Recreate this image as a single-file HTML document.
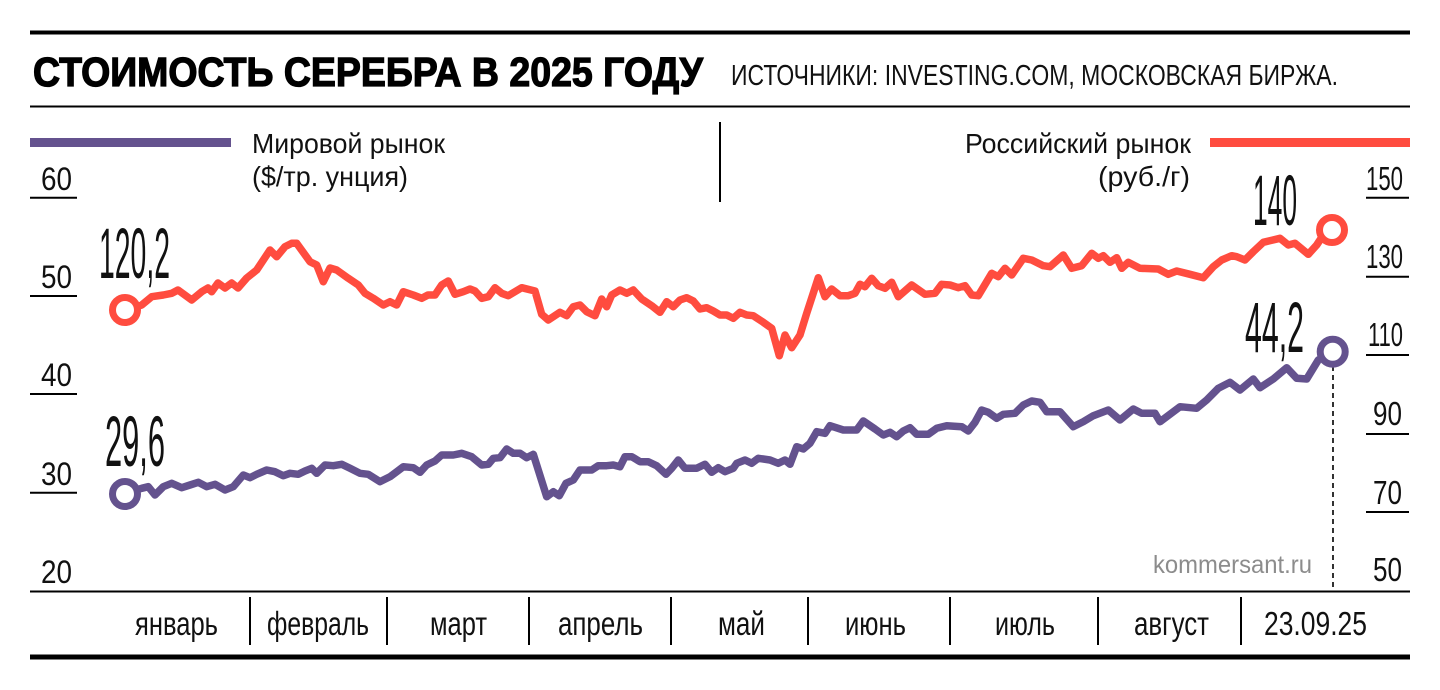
<!DOCTYPE html>
<html>
<head>
<meta charset="utf-8">
<style>
  html, body { margin: 0; padding: 0; background: #ffffff; }
  svg { display: block; }
  text { font-family: "Liberation Sans", "Noto Sans CJK SC", sans-serif; fill: #111; }
</style>
</head>
<body>
<svg width="1440" height="690" viewBox="0 0 1440 690" xmlns="http://www.w3.org/2000/svg">
  <rect x="0" y="0" width="1440" height="690" fill="#ffffff"/>

  <!-- Header -->
  <line x1="30" y1="32.5" x2="1410" y2="32.5" stroke="#000" stroke-width="4"/>
  <text x="33" y="86" font-size="41" font-weight="bold" textLength="670" lengthAdjust="spacingAndGlyphs" style="fill:#000;stroke:#000;stroke-width:1.3">СТОИМОСТЬ СЕРЕБРА В 2025 ГОДУ</text>
  <text x="731" y="85" font-size="29" textLength="607" lengthAdjust="spacingAndGlyphs">ИСТОЧНИКИ: INVESTING.COM, МОСКОВСКАЯ БИРЖА.</text>
  <line x1="30" y1="106.5" x2="1410" y2="106.5" stroke="#000" stroke-width="2"/>

  <!-- Legend -->
  <rect x="30" y="138" width="201" height="9" fill="#64528e"/>
  <text x="252" y="153" font-size="28" textLength="193" lengthAdjust="spacingAndGlyphs">Мировой рынок</text>
  <text x="252" y="186" font-size="28" textLength="156" lengthAdjust="spacingAndGlyphs">($/тр. унция)</text>
  <line x1="720" y1="122" x2="720" y2="202" stroke="#000" stroke-width="2"/>
  <rect x="1210" y="138" width="200" height="9" fill="#ff4c3f"/>
  <text x="965" y="153" font-size="28" textLength="226" lengthAdjust="spacingAndGlyphs">Российский рынок</text>
  <text x="1098" y="186" font-size="28" textLength="92" lengthAdjust="spacingAndGlyphs">(руб./г)</text>

  <!-- Left axis -->
  <g font-size="32">
    <text x="41" y="190" textLength="31" lengthAdjust="spacingAndGlyphs">60</text>
    <text x="41" y="288" textLength="31" lengthAdjust="spacingAndGlyphs">50</text>
    <text x="41" y="386" textLength="31" lengthAdjust="spacingAndGlyphs">40</text>
    <text x="41" y="485" textLength="31" lengthAdjust="spacingAndGlyphs">30</text>
    <text x="41" y="583" textLength="31" lengthAdjust="spacingAndGlyphs">20</text>
  </g>
  <g stroke="#000" stroke-width="2">
    <line x1="30" y1="197.7" x2="77" y2="197.7"/>
    <line x1="30" y1="296" x2="77" y2="296"/>
    <line x1="30" y1="394" x2="77" y2="394"/>
    <line x1="30" y1="492.7" x2="77" y2="492.7"/>
  </g>

  <!-- Right axis -->
  <g font-size="33">
    <text x="1366" y="190" textLength="37" lengthAdjust="spacingAndGlyphs">150</text>
    <text x="1366" y="268" textLength="37" lengthAdjust="spacingAndGlyphs">130</text>
    <text x="1368" y="346" textLength="35" lengthAdjust="spacingAndGlyphs">110</text>
    <text x="1373" y="425" textLength="29" lengthAdjust="spacingAndGlyphs">90</text>
    <text x="1373" y="504" textLength="29" lengthAdjust="spacingAndGlyphs">70</text>
    <text x="1373" y="581" textLength="29" lengthAdjust="spacingAndGlyphs">50</text>
  </g>
  <g stroke="#000" stroke-width="2">
    <line x1="1366" y1="197.7" x2="1409" y2="197.7"/>
    <line x1="1366" y1="276.7" x2="1409" y2="276.7"/>
    <line x1="1366" y1="355" x2="1409" y2="355"/>
    <line x1="1366" y1="434" x2="1409" y2="434"/>
    <line x1="1366" y1="512" x2="1409" y2="512"/>
  </g>

  <!-- kommersant -->
  <text x="1153" y="573" font-size="25" textLength="159" lengthAdjust="spacingAndGlyphs" style="fill:#8c8c8c">kommersant.ru</text>

  <!-- Dashed marker -->
  <line x1="1333" y1="366" x2="1333" y2="591" stroke="#000" stroke-width="1.6" stroke-dasharray="5,4"/>

  <!-- Red series (Russian market) -->
  <polyline fill="none" stroke="#ff4c3f" stroke-width="7.5" stroke-linejoin="round" stroke-linecap="round"
    points="125,310 141.7,305 151.7,296.7 163.3,295 171.7,293.3 178,290 191.7,300 201.7,291.7 208,288 211.7,291.7 218,283 225,288 231.7,283 238,288 246.7,278 256.7,270 270,250 276.7,256.7 285,246.7 291.7,243.3 296.7,243.3 310,261.7 316.7,265 323.3,281.7 330,268 336.7,270 348.3,278.3 358.3,285 365,293.3 373.3,298.3 383.3,305 390,301.7 396.7,305 403.3,291.7 413.3,295 421.7,298.3 428,295 435,295 441.7,285 448.3,281 455,294.3 463.3,291.7 470,289 475,291 481.7,298.3 488.3,296.7 495,287.7 501.7,293.3 508.3,295.7 515,291.7 521.7,287.7 535,291 541.7,314.3 548.3,320 560,312.3 566.7,315.7 573.3,306.7 580,305 586.7,311.7 595,315.7 601.7,299 606.7,306.7 611.7,295 620,290 626.7,293.3 633.3,290 641.7,299 651.7,305.7 660,312.3 666.7,301.7 673.3,306.7 680,300 686.7,297.7 693.3,301 700,309 706.7,307.7 713.3,311 720,315 726.7,315 733.3,318.3 740,312.3 746.7,315 753.3,315.7 763.3,322.3 771.7,328.3 779.3,355.7 785,335 791.7,347.7 800,335 806.7,313.3 818.3,277.7 825,296.7 831.7,289 840,295.7 848.3,295.7 855,293.3 860,284.3 865,286.7 871.7,278.3 878.3,285.7 885,288.3 891.7,282.3 898.3,296.7 911.7,285 925,294.3 935,293.3 941.7,284.3 950,285 958.3,287.7 965,285.7 971.7,295 978.3,295.7 991.7,273.3 998.3,276.7 1005,268.3 1011.7,275 1023.3,258.3 1031.7,260 1043.3,265.7 1050,266.7 1063.3,255 1071.7,268.3 1081.7,265.7 1091.7,253.3 1098.3,258.3 1103.3,255.7 1110,262.3 1116.7,257.7 1121.7,268.3 1128.3,262.3 1140,268.3 1158.3,269 1168.3,274.3 1176.7,271 1190,274.3 1203.3,277.7 1213.3,266.7 1221.7,260 1231.7,255.7 1236.7,256.7 1245,260 1253.3,251.7 1263.3,242.3 1280,238.3 1288.3,245 1295,243.3 1308.3,254.3 1316.7,245 1323.3,235 1332,230"/>

  <!-- Purple series (World market) -->
  <polyline fill="none" stroke="#64528e" stroke-width="7.5" stroke-linejoin="round" stroke-linecap="round"
    points="125,493.3 141.7,488.3 148.3,486.7 155,495 163.3,486.7 171.7,483.3 181.7,487.7 190,485 198.3,482.3 206.7,486.7 215,484.3 225,490 233.3,486.7 243.3,475 250,477.7 256.7,474.3 266.7,470 275,471.7 283.3,475.7 290,473.3 298.3,474.3 305,471 311.7,468.3 316.7,473.3 325,465 333.3,465.7 341.7,464.3 350,468.3 360,473.3 368.3,474.3 380,481.7 390,476.7 396.7,471.7 403.3,466.7 413.3,467.7 420,472.3 426.7,465 435,461 441.7,455 453.3,455 461.7,453.3 471.7,456.7 481.7,465 488.3,464.3 493.3,458.3 500,457.7 506.7,449 513.3,453.3 520,453.3 526.7,457.7 533.3,454.3 546.7,496.7 553.3,491.7 559.3,495.7 566,483.3 573.3,480 580,470 591.7,470 598.3,465.7 606.7,465.7 613.3,465 620,466.7 625,456.7 631.7,456.7 640,461.7 648.3,461.7 656.7,465.7 666,474.3 671.7,468.3 678.3,460 685,468.3 696.7,468.3 705,464.3 711.7,472.3 718.3,467.7 725,471.7 733.3,468.3 736.7,463.3 745,460 751.7,463.3 758.3,458.3 770,460 778.3,463.3 785,460 790,464.3 796.7,446.7 803.3,449 810,443.3 816.7,431.7 825,433.3 830,425.7 843.3,430 856.7,430 863.3,421 875,429 883.3,435 890,432.3 896.7,436.7 903.3,431 910,427.7 916.7,434.3 928.3,434.3 936.7,428.3 946.7,425.7 961.7,426.7 968.3,431 975,422.3 981.7,410 988.3,412.3 996.7,418.3 1003.3,414.3 1015,413.3 1023.3,405 1031.7,401 1040,402.3 1046.7,411.7 1060,411.7 1073.3,426.7 1083.3,421.7 1093.3,415.7 1108.3,410 1120,420 1133.3,409 1141.7,413.3 1155,413.3 1160,421.7 1180,406.7 1196.7,408.3 1206.7,400 1218.3,388.3 1230,382.3 1240,390 1253.3,379 1260,387.7 1273.3,379 1286.7,367.7 1296.7,378.3 1306.7,379 1318.3,360 1332.7,351.7"/>

  <!-- End markers -->
  <circle cx="125" cy="310" r="12.5" fill="#fff" stroke="#ff4c3f" stroke-width="7"/>
  <circle cx="1332" cy="230" r="12.5" fill="#fff" stroke="#ff4c3f" stroke-width="7"/>
  <circle cx="125" cy="494" r="12.5" fill="#fff" stroke="#64528e" stroke-width="7"/>
  <circle cx="1332.7" cy="351.7" r="12.5" fill="#fff" stroke="#64528e" stroke-width="7"/>

  <!-- Value labels -->
  <g font-size="71">
    <text x="99" y="278" textLength="71" lengthAdjust="spacingAndGlyphs">120,2</text>
    <text x="105" y="466" textLength="60" lengthAdjust="spacingAndGlyphs">29,6</text>
    <text x="1253" y="225" textLength="44" lengthAdjust="spacingAndGlyphs">140</text>
    <text x="1245" y="352" textLength="59" lengthAdjust="spacingAndGlyphs">44,2</text>
  </g>

  <!-- Bottom axis -->
  <line x1="30" y1="591.5" x2="1410" y2="591.5" stroke="#000" stroke-width="2"/>
  <g stroke="#000" stroke-width="2">
    <line x1="250" y1="597" x2="250" y2="645"/>
    <line x1="387" y1="597" x2="387" y2="645"/>
    <line x1="529" y1="597" x2="529" y2="645"/>
    <line x1="671" y1="597" x2="671" y2="645"/>
    <line x1="808" y1="597" x2="808" y2="645"/>
    <line x1="950" y1="597" x2="950" y2="645"/>
    <line x1="1098" y1="597" x2="1098" y2="645"/>
    <line x1="1241" y1="597" x2="1241" y2="645"/>
  </g>
  <g font-size="33">
    <text x="135" y="635" textLength="83" lengthAdjust="spacingAndGlyphs">январь</text>
    <text x="267" y="635" textLength="102" lengthAdjust="spacingAndGlyphs">февраль</text>
    <text x="430" y="635" textLength="57" lengthAdjust="spacingAndGlyphs">март</text>
    <text x="558" y="635" textLength="85" lengthAdjust="spacingAndGlyphs">апрель</text>
    <text x="718" y="635" textLength="47" lengthAdjust="spacingAndGlyphs">май</text>
    <text x="845" y="635" textLength="61" lengthAdjust="spacingAndGlyphs">июнь</text>
    <text x="995" y="635" textLength="60" lengthAdjust="spacingAndGlyphs">июль</text>
    <text x="1134" y="635" textLength="75" lengthAdjust="spacingAndGlyphs">август</text>
    <text x="1264" y="635" textLength="103" lengthAdjust="spacingAndGlyphs">23.09.25</text>
  </g>
  <line x1="30" y1="657" x2="1410" y2="657" stroke="#000" stroke-width="5"/>
</svg>
</body>
</html>
